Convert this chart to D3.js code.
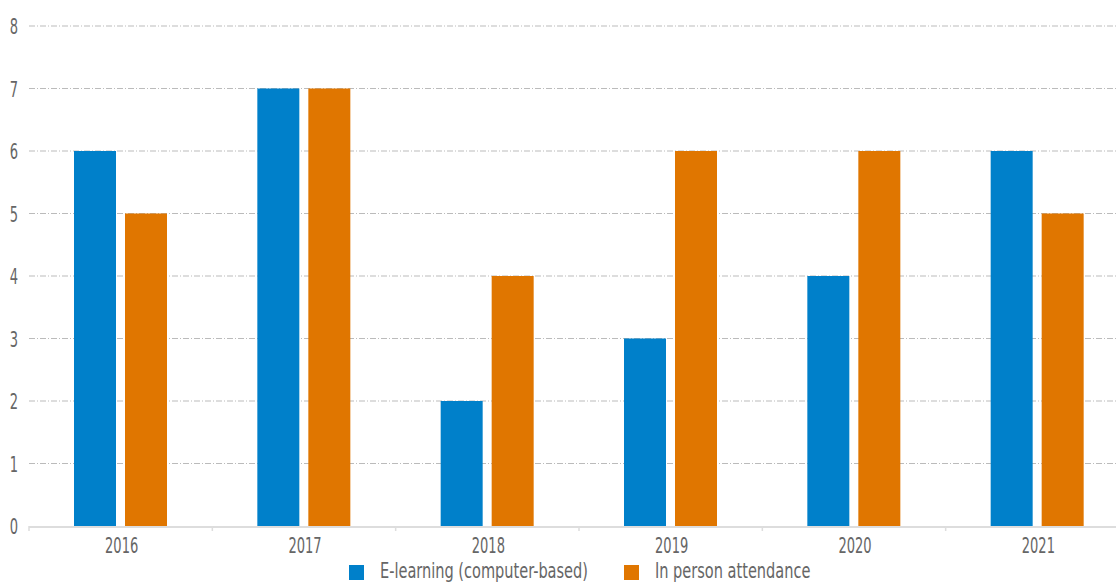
<!DOCTYPE html>
<html><head><meta charset="utf-8">
<script src="https://cdn.jsdelivr.net/npm/d3@7"></script>
<style>
body{margin:0;background:#fff;}
text{font-family:"DejaVu Sans Condensed","DejaVu Sans",sans-serif;font-stretch:condensed;fill:#666;}
</style></head>
<body><svg id="c" width="1116" height="583"></svg>
<script>
const years = ["2016","2017","2018","2019","2020","2021"];
const seriesNames = ["E-learning (computer-based)","In person attendance"];
const eLearning = [6,7,2,3,4,6];
const inPerson = [5,7,4,6,6,5];
const yTicks = [0,1,2,3,4,5,6,7,8];
const colors = ["#0080CA","#E07600"];

const svg = d3.select("#c");
const pLeft = 29, pRight = 1129, pTop = 26, pBottom = 526;
const x = d3.scaleBand().domain(years).range([pLeft, pRight]).paddingInner(0).paddingOuter(0);
const xs = d3.scaleBand().domain([0,1]).range([45, 45+93]).paddingInner(9/51);
const y = d3.scaleLinear().domain([0,8]).range([pBottom, pTop]);

// grid
svg.append("g").selectAll("line").data(yTicks.filter(d=>d>0)).join("line")
  .attr("x1", pLeft).attr("x2", 1116)
  .attr("y1", d=>y(d)).attr("y2", d=>y(d))
  .attr("stroke","#bbb").attr("stroke-width",1)
  .attr("stroke-dasharray","6,2,1,2");

// y labels
const fs = 22, sx = 0.66, sxl = 0.77;
svg.append("g").selectAll("text").data(yTicks).join("text")
  .attr("transform", d=>`translate(18,${y(d)+8}) scale(${sx},1)`)
  .attr("text-anchor","end").attr("font-size",fs).text(d=>d);

// bars
const data = years.map((yr,i)=>({yr, vals:[eLearning[i], inPerson[i]]}));
const g = svg.append("g").selectAll("g").data(data).join("g")
  .attr("transform", d=>`translate(${x(d.yr)},0)`);
g.selectAll("rect").data(d=>d.vals.map((v,k)=>({v,k}))).join("rect")
  .attr("x", d=>xs(d.k)).attr("width", xs.bandwidth())
  .attr("y", d=>y(d.v)).attr("height", d=>y(0)-y(d.v))
  .attr("fill", d=>colors[d.k]);

// x axis
svg.append("line").attr("x1",pLeft).attr("x2",1116).attr("y1",pBottom+1).attr("y2",pBottom+1)
  .attr("stroke","#ddd").attr("stroke-width",2);
svg.append("g").selectAll("line").data(years).join("line")
  .attr("x1", d=>x(d)).attr("x2", d=>x(d)).attr("y1", pBottom).attr("y2", pBottom+5)
  .attr("stroke","#ddd").attr("stroke-width",1.5);
svg.append("g").selectAll("text").data(years).join("text")
  .attr("transform", d=>`translate(${x(d)+x.bandwidth()/2+1},553) scale(${sx},1)`)
  .attr("text-anchor","middle").attr("font-size",fs).text(d=>d);

// legend
const leg = [{x:349, tx:380},{x:624, tx:655}];
const lg = svg.append("g").selectAll("g").data(seriesNames).join("g");
lg.append("rect").attr("x",(d,i)=>leg[i].x).attr("y",565).attr("width",15).attr("height",15).attr("fill",(d,i)=>colors[i]);
lg.append("text").attr("transform",(d,i)=>`translate(${leg[i].tx},578) scale(${sxl},1)`)
  .attr("font-size",21).text(d=>d);
</script></body></html>
